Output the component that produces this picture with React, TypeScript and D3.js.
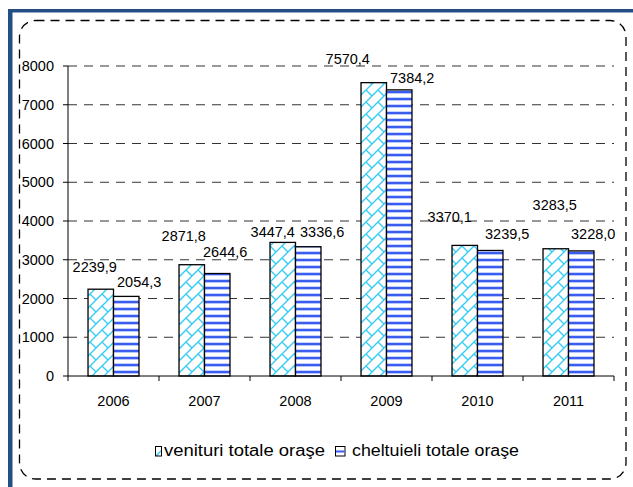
import React from "react";
import * as d3 from "d3";

const years = ["2006", "2007", "2008", "2009", "2010", "2011"];
const venituri = [2239.9, 2871.8, 3447.4, 7570.4, 3370.1, 3283.5];
const cheltuieli = [2054.3, 2644.6, 3336.6, 7384.2, 3239.5, 3228.0];
const yTicks = [0, 1000, 2000, 3000, 4000, 5000, 6000, 7000, 8000];
const seriesNames = ["venituri totale oraşe", "cheltuieli totale oraşe"];

// label offsets (dx from bar centre, dy from bar top) as placed in the original
const venLabelOffsets = [[-6, -17], [-8, -24], [-10, -5.5], [-26, -18.6], [-15, -23.4], [-1, -38.8]];
const chLabelOffsets = [[13, -9.5], [8, -17], [14, -10], [13, -7], [17, -11], [12, -11.6]];

const W = 633;
const H = 487;
const left = 68;
const right = 614;
const top = 66;
const bottom = 376;
const FONT = "'Liberation Sans', Arial, sans-serif";

const fmt = (v: number) => d3.format(".1f")(v).replace(".", ",");

export default function App() {
  const x = d3.scaleBand<string>().domain(years).range([left, right]).paddingInner(0.44).paddingOuter(0.22);
  const y = d3.scaleLinear().domain([0, 8000]).range([bottom, top]);
  const bw = x.bandwidth() / 2;
  const step = x.step();
  const boundaries = d3.range(years.length + 1).map((i) => left + i * step);

  return (
    <svg width={W} height={H} style={{ position: "absolute", left: 0, top: 0 }} fontFamily={FONT}>
      <defs>
        <pattern id="brick" patternUnits="userSpaceOnUse" width={12} height={12}>
          <rect width={12} height={12} fill="#fff" />
          <path d="M-1,13 L13,-1 M6,6 L12,12 M-1,1 L1,-1 M11,13 L13,11" stroke="#33ccf5" strokeWidth={1.4} fill="none" />
        </pattern>
        <pattern id="stripe" patternUnits="userSpaceOnUse" width={6} height={7}>
          <rect width={6} height={7} fill="#fff" />
          <rect y={0} width={6} height={2} fill="#3a5df0" />
          <rect y={2} width={6} height={1} fill="#b8c6ff" />
          <rect y={6} width={6} height={1} fill="#c8d2ff" />
        </pattern>
      </defs>
      <rect width={W} height={H} fill="#fff" />
      {/* blue border */}
      <rect x={8} y={9} width={W - 8} height={3.5} fill="#234f86" />
      <rect x={8} y={9} width={4.5} height={H - 9} fill="#234f86" />
      {/* dashed rounded frame */}
      <rect x={19.5} y={20.5} width={606.5} height={458.5} rx={16} ry={16} fill="none" stroke="#000" strokeWidth={1.3} strokeDasharray="9 6" />

      {/* gridlines */}
      {yTicks.filter((t) => t > 0).map((t) => (
        <line key={t} x1={left} x2={right} y1={y(t)} y2={y(t)} stroke="#333" strokeWidth={1} strokeDasharray="9 7" />
      ))}

      {/* bars */}
      {years.map((yr, i) => (
        <g key={yr}>
          <rect x={x(yr)!} y={y(venituri[i])} width={bw} height={bottom - y(venituri[i])} fill="url(#brick)" stroke="#000" strokeWidth={1.3} />
          <rect x={x(yr)! + bw} y={y(cheltuieli[i])} width={bw} height={bottom - y(cheltuieli[i])} fill="url(#stripe)" stroke="#000" strokeWidth={1.3} />
        </g>
      ))}

      {/* axes */}
      <line x1={left} x2={left} y1={top} y2={bottom} stroke="#000" strokeWidth={1} />
      {yTicks.map((t) => (
        <g key={t}>
          <line x1={left - 5} x2={left} y1={y(t)} y2={y(t)} stroke="#000" />
          <text x={54} y={y(t) + 5} fontSize={14.5} textAnchor="end" fill="#000">{t}</text>
        </g>
      ))}
      <line x1={left} x2={right} y1={bottom} y2={bottom} stroke="#000" strokeWidth={1} />
      {boundaries.map((b, i) => (
        <line key={i} x1={b} x2={b} y1={bottom} y2={bottom + 5} stroke="#000" />
      ))}
      {years.map((yr) => (
        <text key={yr} x={x(yr)! + x.bandwidth() / 2} y={406} fontSize={14.5} textAnchor="middle" fill="#000">{yr}</text>
      ))}

      {/* value labels */}
      {years.map((yr, i) => (
        <g key={"l" + yr} fontSize={14.5} textAnchor="middle" fill="#000">
          <text x={x(yr)! + bw / 2 + venLabelOffsets[i][0]} y={y(venituri[i]) + venLabelOffsets[i][1]}>{fmt(venituri[i])}</text>
          <text x={x(yr)! + bw * 1.5 + chLabelOffsets[i][0]} y={y(cheltuieli[i]) + chLabelOffsets[i][1]}>{fmt(cheltuieli[i])}</text>
        </g>
      ))}

      {/* legend */}
      <g fontSize={16} fill="#000">
        <rect x={155.5} y={446.5} width={6} height={9.5} fill="url(#brick)" stroke="#000" strokeWidth={1} />
        <text x={164} y={455.5} textLength={161} lengthAdjust="spacingAndGlyphs">{seriesNames[0]}</text>
        <rect x={335.5} y={446.5} width={9.5} height={9.5} fill="#fff" stroke="#000" strokeWidth={1} />
        <rect x={336} y={450.5} width={8.5} height={2} fill="#3a5df0" />
        <text x={352} y={455.5} textLength={167} lengthAdjust="spacingAndGlyphs">{seriesNames[1]}</text>
      </g>
    </svg>
  );
}
